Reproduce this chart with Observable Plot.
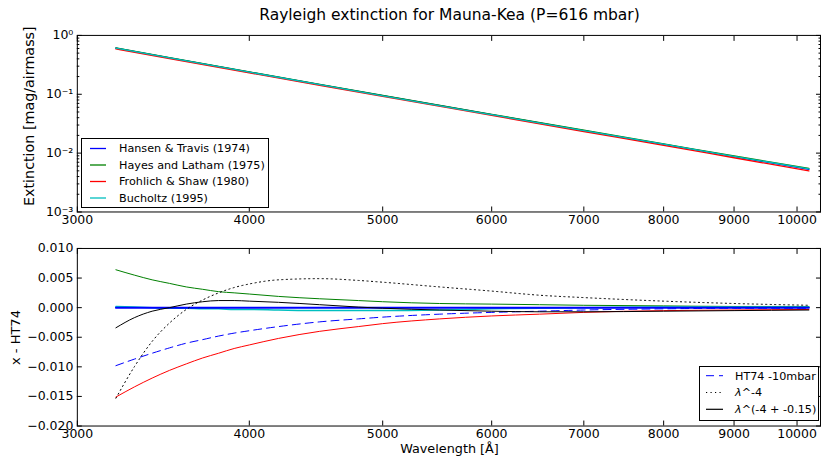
<!DOCTYPE html>
<html><head><meta charset="utf-8">
<script src="https://cdn.jsdelivr.net/npm/d3@7"></script>
<script src="https://cdn.jsdelivr.net/npm/@observablehq/plot@0.6"></script>
<style>
html,body{margin:0;padding:0;background:#fff;overflow:hidden;}
#wrap{position:relative;width:822px;height:461px;overflow:hidden;font-family:"DejaVu Sans",sans-serif;color:#000;}
#wrap .abs{position:absolute;}
.title{left:77px;width:745px;top:8px;text-align:center;font-size:15.5px;line-height:1;white-space:nowrap;}
.ylab{line-height:1;white-space:nowrap;transform-origin:0 0;}
.xlab{left:77px;width:745px;top:443px;text-align:center;font-size:12.8px;line-height:1;}
</style>
</head><body>
<div id="wrap"></div>
<script>
// ---------- data ----------
const xTickValues = [3000, 4000, 5000, 6000, 7000, 8000, 9000, 10000];
const xTickLabels = ["3000", "4000", "5000", "6000", "7000", "8000", "9000", "10000"];
const topYTicks = [0.001, 0.01, 0.1, 1];
const topYLabels = ["10\u207B\u00B3", "10\u207B\u00B2", "10\u207B\u00B9", "10\u2070"];
const botYTicks = [-0.020, -0.015, -0.010, -0.005, 0.000, 0.005, 0.010];

// top panel: extinction [mag/airmass]
const topWave = [3200, 3500, 4000, 4500, 5000, 6000, 7000, 8000, 9000, 10200];
const extHT74 = [0.6056, 0.4149, 0.2377, 0.1461, 0.0948, 0.0451, 0.0241, 0.01406, 0.00874, 0.00528];
const extHL75 = [0.6120, 0.4196, 0.2400, 0.1475, 0.0957, 0.0456, 0.0245, 0.01436, 0.00894, 0.00548];
const extFS80 = [0.5905, 0.4045, 0.2314, 0.1420, 0.0920, 0.0438, 0.0233, 0.01356, 0.00834, 0.00498];
const extB95  = [0.6058, 0.4149, 0.2375, 0.1457, 0.0943, 0.0449, 0.0241, 0.01416, 0.00884, 0.00538];

// bottom panel: x - HT74
const diffWave  = [3200, 3300, 3400, 3500, 3600, 3700, 3800, 3900, 4000, 4200, 4500, 4800, 5000, 5500, 6000, 6500, 7000, 8000, 9000, 10200];
const dHT74     = [0, 0, 0, 0, 0, 0, 0, 0, 0, 0, 0, 0, 0, 0, 0, 0, 0, 0, 0, 0];
const dHL75     = [0.0064, 0.0055, 0.0047, 0.0041, 0.0035, 0.0031, 0.0027, 0.0025, 0.0023, 0.0019, 0.0015, 0.0012, 0.0010, 0.0007, 0.0006, 0.0005, 0.0004, 0.0003, 0.0002, 0.0002];
const dFS80     = [-0.0151, -0.0134, -0.0119, -0.0106, -0.0095, -0.0085, -0.0077, -0.0069, -0.0063, -0.0052, -0.0040, -0.0032, -0.0027, -0.0019, -0.0014, -0.0011, -0.0008, -0.0005, -0.0004, -0.0003];
const dB95      = [0.0002, 0.0001, 0.0000, -0.0001, -0.0001, -0.0002, -0.0002, -0.0003, -0.0003, -0.0004, -0.0005, -0.0005, -0.0005, -0.0004, -0.0002, -0.0001, 0.0000, 0.0001, 0.0001, 0.0001];
const dHT10mbar = [-0.0098, -0.0087, -0.0077, -0.0068, -0.0060, -0.0054, -0.0048, -0.0043, -0.0039, -0.0032, -0.0024, -0.0019, -0.0016, -0.0011, -0.0008, -0.0006, -0.0004, -0.0002, -0.0001, -0.0001];
const dLam4     = [-0.0153, -0.0100, -0.0057, -0.0026, -0.0003, 0.0013, 0.0025, 0.0034, 0.0040, 0.0047, 0.0049, 0.0046, 0.0043, 0.0035, 0.0028, 0.0021, 0.0017, 0.0011, 0.0007, 0.0004];
const dLam415   = [-0.0034, -0.0017, -0.0006, 0.0000, 0.0006, 0.0010, 0.0012, 0.0012, 0.0011, 0.0009, 0.0005, 0.0001, -0.0001, -0.0004, -0.0006, -0.0007, -0.0007, -0.0006, -0.0005, -0.0004];

const topSeries = [
  {name: "Hansen & Travis (1974)", vals: extHT74, color: "#0000ff"},
  {name: "Hayes and Latham (1975)", vals: extHL75, color: "#008000"},
  {name: "Frohlich & Shaw (1980)", vals: extFS80, color: "#ff0000"},
  {name: "Bucholtz (1995)", vals: extB95, color: "#00bfbf"}
];

// ---------- helpers ----------
const rows = (wave, vals) => wave.map((w, i) => ({w, v: vals[i]}));
const minorTop = [];
for (let k = -3; k < 0; k++) for (let m = 2; m <= 9; m++) minorTop.push(m * Math.pow(10, k));
const fmt3 = d3.format(".3f");
const xDomain = [3000, 10400];
const font = {fontFamily: "DejaVu Sans", fontSize: "12.5px", color: "#000", background: "transparent", overflow: "visible"};

const wrap = document.getElementById("wrap");

// title
const t = document.createElement("div");
t.className = "abs title";
t.textContent = "Rayleigh extinction for Mauna-Kea (P=616 mbar)";
wrap.appendChild(t);

// ---------- top panel ----------
const p1 = Plot.plot({
  width: 824, height: 235,
  marginTop: 35, marginBottom: 23, marginLeft: 77, marginRight: 2,
  style: font,
  x: {type: "log", domain: xDomain},
  y: {type: "log", domain: [1e-3, 1]},
  marks: [
    ...topSeries.map(s => Plot.line(rows(topWave, s.vals), {x: "w", y: "v", stroke: s.color, strokeWidth: 1.3, curve: "monotone-x"})),
    Plot.axisX({anchor: "bottom", ticks: xTickValues, tickFormat: d => xTickLabels[xTickValues.indexOf(d)], tickSize: -5, tickPadding: 8, label: null}),
    Plot.axisX({anchor: "top", ticks: xTickValues, tickFormat: () => "", tickSize: -5, label: null}),
    Plot.axisY({anchor: "left", ticks: topYTicks, tickFormat: d => topYLabels[topYTicks.indexOf(d)], tickSize: -5, tickPadding: 9, label: null}),
    Plot.axisY({anchor: "left", ticks: minorTop, tickFormat: () => "", tickSize: -2.5, label: null}),
    Plot.axisY({anchor: "right", ticks: topYTicks, tickFormat: () => "", tickSize: -5, label: null}),
    Plot.axisY({anchor: "right", ticks: minorTop, tickFormat: () => "", tickSize: -2.5, label: null}),
    Plot.frame({stroke: "#000", strokeWidth: 1})
  ]
});
p1.style.position = "absolute"; p1.style.left = "0px"; p1.style.top = "0px";
wrap.appendChild(p1);

// ---------- bottom panel ----------
const p2 = Plot.plot({
  width: 824, height: 226,
  marginTop: 13, marginBottom: 35, marginLeft: 77, marginRight: 2,
  style: font,
  x: {type: "log", domain: xDomain},
  y: {domain: [-0.020, 0.010]},
  marks: [
    Plot.line(rows(diffWave, dHL75), {x: "w", y: "v", stroke: "#008000", strokeWidth: 1, curve: "monotone-x"}),
    Plot.line(rows(diffWave, dFS80), {x: "w", y: "v", stroke: "#ff0000", strokeWidth: 1, curve: "monotone-x"}),
    Plot.line(rows(diffWave, dB95), {x: "w", y: "v", stroke: "#00bfbf", strokeWidth: 1.5, curve: "monotone-x"}),
    Plot.line(rows(diffWave, dHT74), {x: "w", y: "v", stroke: "#0000ff", strokeWidth: 2, curve: "monotone-x"}),
    Plot.line(rows(diffWave, dHT10mbar), {x: "w", y: "v", stroke: "#0000ff", strokeWidth: 1, strokeDasharray: "8,5", curve: "monotone-x"}),
    Plot.line(rows(diffWave, dLam4), {x: "w", y: "v", stroke: "#000", strokeWidth: 1, strokeDasharray: "1.2,3.3", curve: "monotone-x"}),
    Plot.line(rows(diffWave, dLam415), {x: "w", y: "v", stroke: "#000", strokeWidth: 1, curve: "monotone-x"}),
    Plot.axisX({anchor: "bottom", ticks: xTickValues, tickFormat: d => xTickLabels[xTickValues.indexOf(d)], tickSize: -5, tickPadding: 8, label: null}),
    Plot.axisX({anchor: "top", ticks: xTickValues, tickFormat: () => "", tickSize: -5, label: null}),
    Plot.axisY({anchor: "left", ticks: botYTicks, tickFormat: fmt3, tickSize: -5, tickPadding: 9, label: null}),
    Plot.axisY({anchor: "right", ticks: botYTicks, tickFormat: () => "", tickSize: -5, label: null}),
    Plot.frame({stroke: "#000", strokeWidth: 1})
  ]
});
p2.style.position = "absolute"; p2.style.left = "0px"; p2.style.top = "235px";
wrap.appendChild(p2);

// axis labels
function ylab(text, cx, cy, size) {
  const d = document.createElement("div");
  d.className = "abs ylab";
  d.style.fontSize = size + "px";
  d.textContent = text;
  wrap.appendChild(d);
  const w = d.offsetWidth, h = d.offsetHeight;
  d.style.left = (cx - h / 2) + "px";
  d.style.top = (cy + w / 2) + "px";
  d.style.transform = "rotate(-90deg)";
}
ylab("Extinction [mag/airmass]", 29, 116, 14.3);
ylab("x - HT74", 15, 337, 13);
const xl = document.createElement("div");
xl.className = "abs xlab";
xl.textContent = "Wavelength [\u00C5]";
wrap.appendChild(xl);

// legends
function legend(left, top, w, h, entries, textX, lineX1, lineX2, rowY, fontSize) {
  const svg = d3.create("svg").attr("width", w).attr("height", h)
    .style("position", "absolute").style("left", left + "px").style("top", top + "px")
    .style("font-family", "DejaVu Sans").style("font-size", fontSize + "px");
  svg.append("rect").attr("x", 0.5).attr("y", 0.5).attr("width", w - 1).attr("height", h - 1)
    .attr("fill", "#fff").attr("stroke", "#000").attr("stroke-width", 1);
  entries.forEach((e, i) => {
    const y = rowY[i];
    svg.append("line").attr("x1", lineX1).attr("x2", lineX2).attr("y1", y).attr("y2", y)
      .attr("stroke", e.color).attr("stroke-width", e.width || 1.3).attr("stroke-dasharray", e.dash || null);
    const tx = svg.append("text").attr("x", textX).attr("y", y).attr("dy", "0.35em");
    e.parts.forEach(p => tx.append("tspan").attr("font-style", p.italic ? "italic" : null).text(p.t));
  });
  wrap.appendChild(svg.node());
}
legend(81, 138, 188, 70,
  topSeries.map(s => ({color: s.color, parts: [{t: s.name}]})),
  38, 9, 25, [10.5, 27, 43.5, 60], 11.2);
legend(699, 366, 120, 55, [
  {color: "#0000ff", dash: "8,5", width: 1, parts: [{t: "HT74 -10mbar"}]},
  {color: "#000", dash: "1.2,3.3", width: 1, parts: [{t: "\u03BB", italic: true}, {t: "^-4"}]},
  {color: "#000", width: 1.2, parts: [{t: "\u03BB", italic: true}, {t: "^(-4 + -0.15)"}]}
], 36, 7, 24, [9.7, 26.5, 43.3], 11.2);
</script>
</body></html>
